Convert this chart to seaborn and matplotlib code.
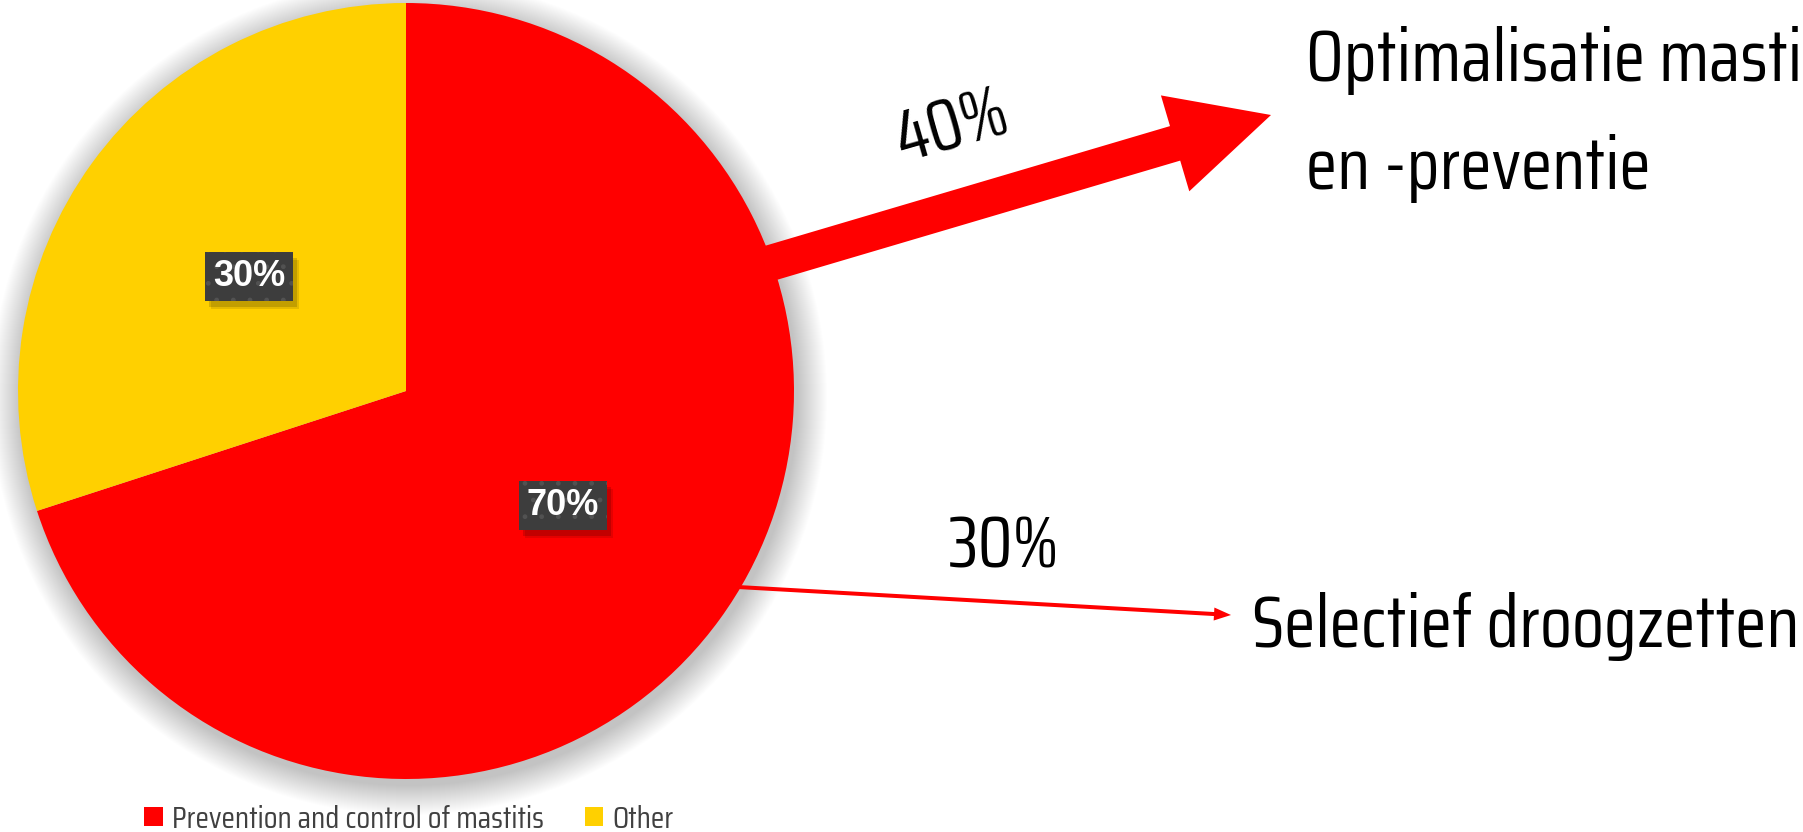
import matplotlib
matplotlib.use('Agg')
import matplotlib.pyplot as plt
import matplotlib.patches as mpatches
import seaborn as sns

# data
categories = ['Prevention and control of mastitis', 'Other']
shares = [70, 30]
colors = ['#FF0000', '#FFD000']
sub_labels = ['Optimalisatie mastitisbehandeling\nen -preventie', 'Selectief droogzetten']
sub_shares = [40, 30]

sns.set_theme(style='white')
narrow = ['Saira Condensed', 'Liberation Sans Narrow', 'DejaVu Sans']
plt.rcParams['font.family'] = narrow

W, H = 1803, 832
fig = plt.figure(figsize=(W / 100, H / 100), dpi=100)
ax = fig.add_axes([0, 0, 1, 1])

# pie geometry in pixel units (y up)
cx, cy, r = 406, 441, 388

# soft shadow round the pie
for k in range(30):
    ax.add_patch(mpatches.Circle((cx + 3, cy - 6), r + 30 - k, color='black',
                                 alpha=0.007, lw=0, zorder=0))

wedges, texts, autotexts = ax.pie(shares, colors=colors, startangle=90, counterclock=False,
                                  center=(cx, cy), radius=r, autopct='%d%%', pctdistance=0.5,
                                  wedgeprops=dict(linewidth=0, zorder=1))

# dark label boxes with a soft drop shadow
bw, bh = 88, 49
for t in autotexts:
    x, y = t.get_position()
    for dx, dy, a in [(6, -8, 0.10), (4, -6, 0.15)]:
        ax.add_patch(mpatches.Rectangle((x - bw / 2 + dx, y - bh / 2 + dy), bw, bh,
                                        fc='black', alpha=a, lw=0, zorder=4))
    ax.add_patch(mpatches.Rectangle((x - bw / 2, y - bh / 2), bw, bh, fc='#3d3d3d',
                                    ec='#525252', lw=0, hatch='.', zorder=4.5))
    t.set_fontsize(26)
    t.set_fontweight('bold')
    t.set_family(['Liberation Sans', 'DejaVu Sans'])
    t.set_color('white')
    t.set_zorder(5)

# big arrow -> first sub category
a1 = mpatches.FancyArrow(740, 560, 1271 - 740, 717 - 560, width=36, head_width=100,
                         head_length=100, length_includes_head=True, color=colors[0], lw=0, zorder=3)
ax.add_patch(a1)
# thin arrow -> second sub category
a2 = mpatches.FancyArrow(720, 246, 1231 - 720, 217 - 246, width=4, head_width=13,
                         head_length=17, length_includes_head=True, color=colors[0], lw=0, zorder=3)
ax.add_patch(a2)

ax.text(952, 705, f'{sub_shares[0]}%', fontsize=52, rotation=16, rotation_mode='anchor',
        ha='center', va='center', color='black', zorder=6)
ax.text(1004, 285, f'{sub_shares[1]}%', fontsize=52, ha='center', va='center',
        color='black', zorder=6)

lines = sub_labels[0].split('\n')
ax.text(1306, 751, lines[0], fontsize=52.5, ha='left', va='baseline', color='black')
ax.text(1306, 643, lines[1], fontsize=52.5, ha='left', va='baseline', color='black')
ax.text(1252, 185, sub_labels[1], fontsize=52.5, ha='left', va='baseline', color='black')

ax.legend(wedges, categories, ncol=2, frameon=False, loc='center left',
          bbox_to_anchor=(144 / W, 13 / H), borderaxespad=0, borderpad=0,
          handlelength=0.6, handleheight=0.6, handletextpad=0.3, columnspacing=1.3,
          prop={'family': narrow, 'size': 22.5}, labelcolor='#404040')

ax.set_xlim(0, W)
ax.set_ylim(0, H)
ax.set_aspect('equal')
ax.axis('off')

fig.savefig('out.png', dpi=100, facecolor='white')
